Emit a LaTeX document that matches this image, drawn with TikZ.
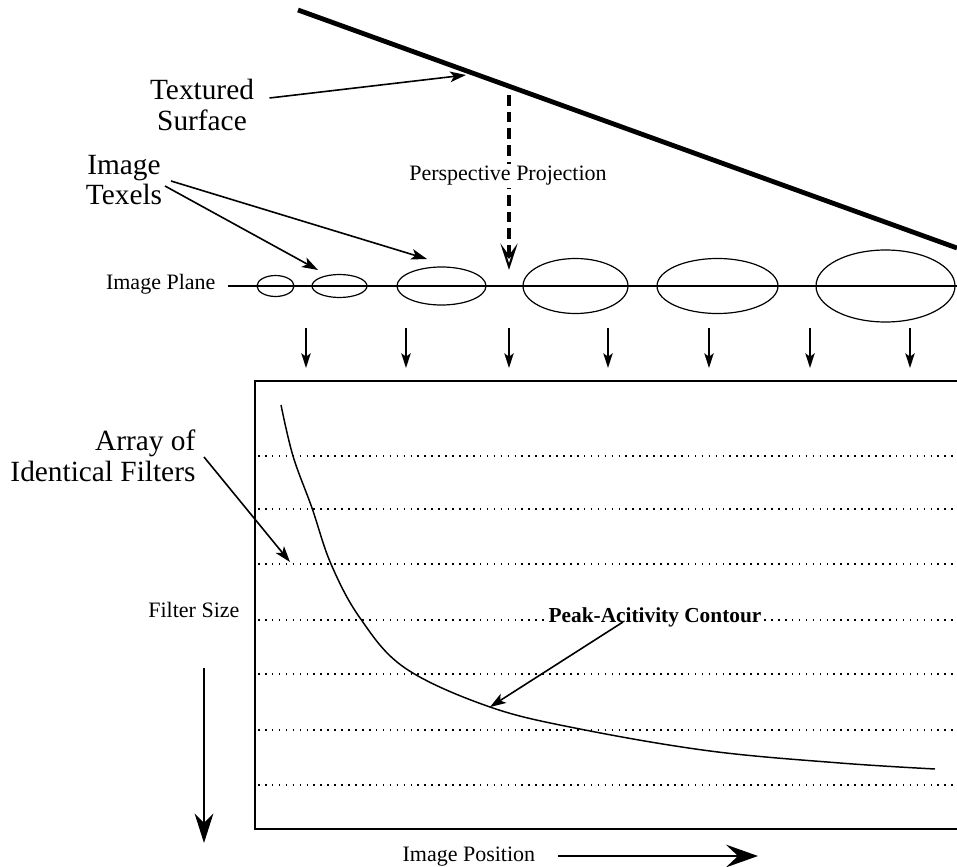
\documentclass[tikz,border=0pt]{standalone}
\usepackage{fontspec}
\setmainfont{Liberation Serif}
\usetikzlibrary{arrows.meta}

\tikzset{every picture/.style={line width=0.9pt}}
\tikzset{
  bigtext/.style={font=\fontsize{22}{23}\selectfont, align=center, inner sep=0.75pt},
  smalltext/.style={font=\fontsize{16.5}{18}\selectfont, inner sep=0.75pt},
  pointer/.style={-{Stealth[length=12pt,width=8pt,inset=3pt]}, line width=1.2pt},
  drop/.style={-{Stealth[length=11pt,width=7pt,inset=2.5pt]}, line width=1.2pt},
  dotrow/.style={line width=1.5pt, dash pattern=on 1.2pt off 4pt},
}

\begin{document}
\begin{tikzpicture}[x=0.75pt,y=0.75pt,yscale=-1,xscale=1]
		\useasboundingbox (0,0) rectangle (957,867);

		%Surface line
		\coordinate (surfA) at (298,10);
		\coordinate (surfB) at (957,248);
		\draw [line width=3.6pt] (surfA) -- (surfB);

		% Text Node
		\node [bigtext] (surface) at (202,105) {Textured\\Surface};
		\coordinate (surfhit) at (466,75);
		\path (surface.east) ++(14,-7) coordinate (surfstart);
		\draw [pointer] (surfstart) -- (surfhit);

		%Projection arrow
		\coordinate (projtop) at (509,95);
		\coordinate (projtip) at (509,270);
		\draw [line width=3pt, dash pattern=on 8pt off 4.5pt, -{Stealth[open, length=20pt, width=13pt, line width=1.6pt, inset=9pt]}] (projtop) -- (projtip);
		\node [smalltext, fill=white, inner sep=2pt] (persp) at (508,176) {Perspective Projection};

		% Text Node
		\node [bigtext] (texels) at (124,180) {Image\\Texels};
		\coordinate (texA) at (165,186);
		\coordinate (texB) at (171,181);
		\draw [pointer] (texA) -- (318,270);
		\draw [pointer] (texB) -- (427,259);

		%Image plane
		\node [smalltext, anchor=east] (plane) at (217,284) {Image Plane};
		\draw (228,286) -- (957,286);
		\foreach \cx/\rx/\ry in {275.5/18.5/10.5, 339.5/27.5/11.5, 441.5/44.5/19, 575.5/52.5/27.5, 717.5/60.5/27.5, 885.5/69.5/36}
			\draw (\cx,286) ellipse [x radius=\rx, y radius=\ry];

		%Down arrows
		\foreach \ax in {306,406,509,608,709,810,910}
			\draw [drop] (\ax,328) -- (\ax,368);

		%Filter box
		\draw [line width=1.2pt] (957,381) -- (255,381) -- (255,829) -- (957,829);
		\foreach \ry in {456,509,564,620,674,730,785}
			\draw [dotrow] (258,\ry) -- (957,\ry);

		%Peak contour
		\draw [line width=1.1pt] plot [smooth, tension=0.6] coordinates {(281,405) (293,456) (312,508) (331,564) (360,618) (405,668) (490,707) (580,729) (710,751) (840,763) (935,769)};
		\node [font=\fontsize{16}{18}\selectfont\bfseries, fill=white, inner sep=1.5pt] (peak) at (655,617) {Peak-Acitivity Contour};
		\coordinate (peakhit) at (490,707);
		\draw [pointer] (623,622) -- (peakhit);

		% Text Node
		\node [bigtext, align=right, anchor=east] (array) at (197,456) {Array of\\Identical Filters};
		\draw [pointer] (204,457) -- (290,562);

		% Text Node
		\node [smalltext, anchor=east] (fsize) at (241,610) {Filter Size};
		\draw [line width=2pt, -{Stealth[length=22pt, width=14pt, inset=7pt]}] (204,668) -- (204,843);

		% Text Node
		\node [smalltext, anchor=west] (ipos) at (401,857) {Image Position};
		\draw [line width=2.2pt, -{Stealth[length=24pt, width=17pt, inset=9pt]}] (558,856) -- (758,856);

\end{tikzpicture}
\end{document}
